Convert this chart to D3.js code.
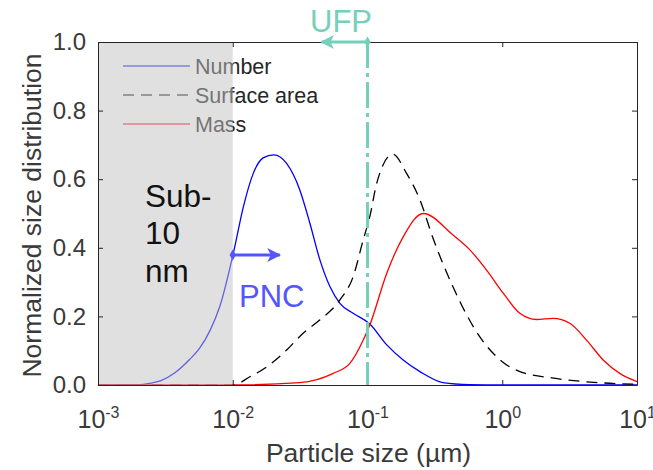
<!DOCTYPE html>
<html>
<head>
<meta charset="utf-8">
<script src="https://cdn.jsdelivr.net/npm/d3@7"></script>
<style>
  body { margin: 0; background: #fff; }
  text { font-family: "Liberation Sans", Arial, sans-serif; }
</style>
</head>
<body>
<div id="chart"></div>
<script>
// particle size (um) and normalized values
const numberSize = [0.001, 0.002, 0.00243, 0.0029, 0.0037, 0.0048, 0.0057, 0.0068, 0.008, 0.0101, 0.012, 0.0142, 0.0168, 0.0202, 0.0251, 0.0315, 0.0374, 0.0444, 0.0526, 0.0624, 0.0783, 0.104, 0.139, 0.184, 0.245, 0.363, 0.575, 1, 10];
const numberVal  = [0, 0.001, 0.005, 0.012, 0.035, 0.075, 0.108, 0.16, 0.228, 0.384, 0.52, 0.617, 0.662, 0.671, 0.646, 0.568, 0.471, 0.364, 0.287, 0.238, 0.209, 0.178, 0.117, 0.073, 0.039, 0.007, 0.001, 0, 0];

const surfaceSize = [0.001, 0.0101, 0.0134, 0.0179, 0.0251, 0.0333, 0.0444, 0.0624, 0.0783, 0.0929, 0.104, 0.117, 0.154, 0.195, 0.245, 0.305, 0.43, 0.68, 1.0, 1.35, 2.4, 5.6, 10];
const surfaceVal  = [0, 0, 0.024, 0.053, 0.102, 0.151, 0.19, 0.248, 0.316, 0.423, 0.491, 0.588, 0.673, 0.617, 0.54, 0.43, 0.287, 0.141, 0.068, 0.039, 0.02, 0.006, 0.002];

const massSize = [0.001, 0.0101, 0.0315, 0.0557, 0.074, 0.093, 0.104, 0.139, 0.184, 0.259, 0.432, 0.575, 0.765, 1.02, 1.35, 1.8, 2.39, 3.17, 4.22, 5.61, 7.45, 10];
const massVal  = [0, 0, 0.007, 0.034, 0.063, 0.131, 0.175, 0.326, 0.432, 0.5, 0.437, 0.394, 0.335, 0.267, 0.209, 0.191, 0.194, 0.18, 0.131, 0.073, 0.034, 0.01];

const xTicks = [1e-3, 1e-2, 1e-1, 1, 10];
const xTickExp = ["-3", "-2", "-1", "0", "1"];
const yTicks = [0, 0.2, 0.4, 0.6, 0.8, 1.0];

const W = 653, H = 470;
const margin = { top: 42, right: 16, bottom: 85, left: 98 };

const svg = d3.select("#chart").append("svg")
    .attr("width", W)
    .attr("height", H);

const x = d3.scaleLog().domain([1e-3, 10]).range([margin.left, W - margin.right]);
const y = d3.scaleLinear().domain([0, 1]).range([H - margin.bottom, margin.top]);

const line = d3.line()
    .x(d => x(d[0]))
    .y(d => y(d[1]))
    .curve(d3.curveMonotoneX);

const series = [
    { name: "Number", sx: numberSize, sy: numberVal, color: "#0000ff", dash: null },
    { name: "Surface area", sx: surfaceSize, sy: surfaceVal, color: "#000000", dash: "11,7" },
    { name: "Mass", sx: massSize, sy: massVal, color: "#ff0000", dash: null }
];

// curves
series.forEach(s => {
    svg.append("path")
        .datum(s.sx.map((v, i) => [v, s.sy[i]]))
        .attr("fill", "none")
        .attr("stroke", s.color)
        .attr("stroke-width", 1.3)
        .attr("stroke-dasharray", s.dash)
        .attr("d", line);
});

// legend
const legend = svg.append("g");
series.forEach((s, i) => {
    const ly = 66 + i * 29;
    legend.append("line")
        .attr("x1", 123).attr("x2", 190)
        .attr("y1", ly).attr("y2", ly)
        .attr("stroke", s.color)
        .attr("stroke-opacity", 0.75)
        .attr("stroke-width", 1.3)
        .attr("stroke-dasharray", s.dash);
    legend.append("text")
        .attr("x", 195).attr("y", ly + 7.5)
        .attr("font-size", 21.5)
        .attr("fill", "#262626")
        .text(s.name);
});

// grey sub-10 nm band drawn over the curves
svg.append("rect")
    .attr("x", x(1e-3))
    .attr("y", y(1))
    .attr("width", x(1e-2) - x(1e-3))
    .attr("height", y(0) - y(1))
    .attr("fill", "#c1c1c1")
    .attr("fill-opacity", 0.5);

// axes box
const axisColor = "#262626";
const gx = svg.append("g")
    .attr("transform", `translate(0,${y(0)})`)
    .call(d3.axisBottom(x).tickValues(xTicks).tickSizeInner(-5).tickSizeOuter(0).tickFormat(""));
const gxTop = svg.append("g")
    .attr("transform", `translate(0,${y(1)})`)
    .call(d3.axisTop(x).tickValues(xTicks).tickSizeInner(-5).tickSizeOuter(0).tickFormat(""));
const gy = svg.append("g")
    .attr("transform", `translate(${x(1e-3)},0)`)
    .call(d3.axisLeft(y).tickValues(yTicks).tickSizeInner(-5).tickSizeOuter(0).tickPadding(12).tickFormat(d3.format(".1f")));
const gyRight = svg.append("g")
    .attr("transform", `translate(${x(10)},0)`)
    .call(d3.axisRight(y).tickValues(yTicks).tickSizeInner(-5).tickSizeOuter(0).tickFormat(""));

[gx, gxTop, gy, gyRight].forEach(g => {
    g.select(".domain").attr("stroke", axisColor);
    g.selectAll(".tick line").attr("stroke", axisColor);
});
gy.selectAll(".tick text")
    .attr("font-size", 24)
    .attr("fill", "#3a3a3a")
    .attr("font-family", "Liberation Sans, Arial, sans-serif");

// x tick labels as 10^n
gx.selectAll(".tick text").each(function (d, i) {
    const t = d3.select(this)
        .attr("font-size", 25)
        .attr("fill", "#3a3a3a")
        .attr("font-family", "Liberation Sans, Arial, sans-serif")
        .attr("y", 43)
        .attr("dy", null);
    t.append("tspan").text("10");
    t.append("tspan").attr("font-size", 16).attr("dy", -10).text(xTickExp[i]);
});

// axis titles
svg.append("text")
    .attr("x", (x(1e-3) + x(10)) / 2 + 1)
    .attr("y", 462)
    .attr("text-anchor", "middle")
    .attr("font-size", 26.5)
    .attr("fill", "#3a3a3a")
    .text("Particle size (\u00b5m)");

svg.append("text")
    .attr("transform", `translate(41,${(y(0) + y(1)) / 2 + 2}) rotate(-90)`)
    .attr("text-anchor", "middle")
    .attr("font-size", 26.5)
    .attr("fill", "#3a3a3a")
    .text("Normalized size distribution");

// UFP marker
const teal = "#76cfbb";
svg.append("line")
    .attr("x1", x(0.1)).attr("x2", x(0.1))
    .attr("y1", y(1)).attr("y2", y(0))
    .attr("stroke", teal)
    .attr("stroke-width", 3)
    .attr("stroke-dasharray", "26,5,4,5");

const defs = svg.append("defs");
function arrowHead(id, color) {
    defs.append("marker")
        .attr("id", id)
        .attr("viewBox", "0 0 10 10")
        .attr("refX", 9).attr("refY", 5)
        .attr("markerWidth", 4.6).attr("markerHeight", 4.6)
        .attr("orient", "auto")
        .append("path")
        .attr("d", "M0,0 L10,5 L0,10 L2.5,5 Z")
        .attr("fill", color);
}
arrowHead("ahTeal", teal);
arrowHead("ahBlue", "#5555ff");

svg.append("line")
    .attr("x1", x(0.1)).attr("x2", x(0.1) - 46)
    .attr("y1", y(1)).attr("y2", y(1))
    .attr("stroke", teal).attr("stroke-width", 3)
    .attr("marker-end", "url(#ahTeal)");
svg.append("path")
    .attr("d", d3.symbol(d3.symbolDiamond, 36)())
    .attr("transform", `translate(${x(0.1)},${y(1)})`)
    .attr("fill", teal);
svg.append("text")
    .attr("x", 341).attr("y", 31.5)
    .attr("text-anchor", "middle")
    .attr("font-size", 31)
    .attr("fill", teal)
    .text("UFP");

// PNC marker
const pncBlue = "#5555ff";
svg.append("line")
    .attr("x1", x(0.01)).attr("x2", x(0.01) + 47)
    .attr("y1", 255).attr("y2", 255)
    .attr("stroke", pncBlue).attr("stroke-width", 3)
    .attr("marker-end", "url(#ahBlue)");
svg.append("path")
    .attr("d", d3.symbol(d3.symbolDiamond, 36)())
    .attr("transform", `translate(${x(0.01)},255)`)
    .attr("fill", pncBlue);
svg.append("text")
    .attr("x", 239).attr("y", 307)
    .attr("font-size", 31)
    .attr("fill", pncBlue)
    .text("PNC");

// Sub-10 nm label
const subLines = ["Sub-", "10", "nm"];
svg.append("text")
    .attr("font-size", 31.5)
    .attr("fill", "#111")
    .selectAll("tspan")
    .data(subLines)
    .join("tspan")
    .attr("x", 145)
    .attr("y", (d, i) => 206.5 + i * 37.5)
    .text(d => d);
</script>
</body>
</html>
